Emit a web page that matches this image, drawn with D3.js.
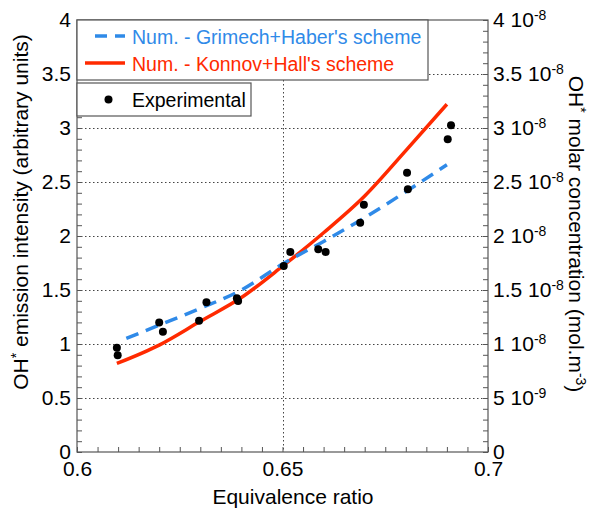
<!DOCTYPE html>
<html><head><meta charset="utf-8">
<script src="https://cdn.jsdelivr.net/npm/d3@7"></script>
<style>
body{margin:0;background:#fff;}
svg{font-family:"Liberation Sans",Arial,sans-serif;}
</style></head>
<body><svg id="c" width="590" height="516"></svg>
<script>
// ---- data ----
const expPhi = [0.6097,0.6099,0.6200,0.6209,0.6297,0.6315,0.6389,0.6392,0.6503,0.6519,0.6587,0.6605,0.6689,0.6698,0.6803,0.6805,0.6902,0.6910];
const expVal = [0.966,0.895,1.20,1.114,1.216,1.386,1.423,1.398,1.722,1.852,1.877,1.852,2.123,2.29,2.586,2.432,2.895,3.025];
const grimechPhi = [0.612,0.620,0.630,0.640,0.650,0.660,0.670,0.680,0.690];
const grimechVal = [1.052,1.175,1.33,1.50,1.74,1.95,2.17,2.41,2.66];
const konnovPhi = [0.6097,0.620,0.630,0.640,0.650,0.660,0.670,0.680,0.690];
const konnovVal = [0.82,0.99,1.21,1.43,1.72,2.03,2.37,2.79,3.22];
const xTicks = [0.6,0.65,0.7];
const xTickLabels = ["0.6","0.65","0.7"];
const yTicks = [0,0.5,1,1.5,2,2.5,3,3.5,4];
const yTickLabels = ["0","0.5","1","1.5","2","2.5","3","3.5","4"];
const y2Ticks = [0,5e-9,1e-8,1.5e-8,2e-8,2.5e-8,3e-8,3.5e-8,4e-8];
const y2Mantissa = ["0","5","1","1.5","2","2.5","3","3.5","4"];
const y2Exponent = ["","-9","-8","-8","-8","-8","-8","-8","-8"];
const legendLabels = ["Num. - Grimech+Haber's scheme","Num. - Konnov+Hall's scheme","Experimental"];

// ---- layout ----
const L=77,R=488,T=20,B=452;
const blue="#2f8ae8", red="#ff2a00", axisCol="#555";
const svg=d3.select("#c");
const x=d3.scaleLinear().domain([0.6,0.7]).range([L,R]);
const y=d3.scaleLinear().domain([0,4]).range([B,T]);
const y2=d3.scaleLinear().domain([0,4e-8]).range([B,T]);

// grid
const grid=svg.append("g").attr("stroke","#444").attr("stroke-width",1).attr("stroke-dasharray","1.5,2.5");
yTicks.filter(v=>v>0&&v<4).forEach(v=>grid.append("line").attr("x1",L).attr("x2",R).attr("y1",Math.round(y(v))+0.5).attr("y2",Math.round(y(v))+0.5));
xTicks.filter(v=>v>0.6&&v<0.7).forEach(v=>grid.append("line").attr("y1",T).attr("y2",B).attr("x1",Math.round(x(v))+0.5).attr("x2",Math.round(x(v))+0.5));

// frame
svg.append("rect").attr("x",L).attr("y",T).attr("width",R-L).attr("height",B-T).attr("fill","none").attr("stroke",axisCol).attr("stroke-width",1.2);

function styleAxis(g){g.select(".domain").remove();g.selectAll("line").attr("stroke",axisCol);}
// minor ticks (inward)
svg.append("g").attr("transform",`translate(${L},0)`).call(d3.axisRight(y).tickValues(d3.range(0,4.001,0.1)).tickSize(5).tickFormat("")).call(styleAxis);
svg.append("g").attr("transform",`translate(${R},0)`).call(d3.axisLeft(y2).tickValues(d3.range(0,4.001e-8,1e-9)).tickSize(5).tickFormat("")).call(styleAxis);
svg.append("g").attr("transform",`translate(0,${B})`).call(d3.axisTop(x).tickValues(d3.range(0.6,0.7001,0.005)).tickSize(5).tickFormat("")).call(styleAxis);

// labels
const fs=21;
const gl=svg.append("g").attr("transform",`translate(${L},0)`).call(d3.axisLeft(y).tickValues(yTicks).tickSize(0).tickPadding(6).tickFormat((d,i)=>yTickLabels[i]));
gl.select(".domain").remove();
gl.selectAll("text").attr("font-size",fs).attr("font-family","Liberation Sans,Arial,sans-serif").attr("fill","#000");
const gb=svg.append("g").attr("transform",`translate(0,${B})`).call(d3.axisBottom(x).tickValues(xTicks).tickSize(0).tickPadding(9).tickFormat((d,i)=>xTickLabels[i]));
gb.select(".domain").remove();
gb.selectAll("text").attr("font-size",fs).attr("font-family","Liberation Sans,Arial,sans-serif").attr("fill","#000");
const gr=svg.append("g").attr("transform",`translate(${R},0)`).call(d3.axisRight(y2).tickValues(y2Ticks).tickSize(0).tickPadding(5).tickFormat(""));
gr.select(".domain").remove();
gr.selectAll(".tick text").each(function(d,i){
  const t=d3.select(this).attr("font-size",fs).attr("font-family","Liberation Sans,Arial,sans-serif").attr("fill","#000").text(null);
  t.append("tspan").text(y2Mantissa[i]+(y2Exponent[i]?" 10":""));
  if(y2Exponent[i]) t.append("tspan").attr("dy","-0.55em").attr("font-size",14).text(y2Exponent[i]);
});

// axis titles
svg.append("text").attr("x",293).attr("y",504).attr("text-anchor","middle").attr("font-size",fs).text("Equivalence ratio");
const lt=svg.append("text").attr("transform","translate(28,212) rotate(-90)").attr("text-anchor","middle").attr("font-size",fs);
lt.append("tspan").text("OH");
lt.append("tspan").attr("dy","-0.5em").attr("font-size",14).text("*");
lt.append("tspan").attr("dy","0.35em").text(" emission intensity (arbitrary units)");
const rt=svg.append("text").attr("transform","translate(569,234) rotate(90)").attr("text-anchor","middle").attr("font-size",fs);
rt.append("tspan").text("OH");
rt.append("tspan").attr("dy","-0.5em").attr("font-size",14).text("*");
rt.append("tspan").attr("dy","0.35em").text(" molar concentration (mol.m");
rt.append("tspan").attr("dy","-0.5em").attr("font-size",14).text("-3");
rt.append("tspan").attr("dy","0.35em").text(")");

// curves
const line=d3.line().x(d=>x(d[0])).y(d=>y(d[1])).curve(d3.curveMonotoneX);
svg.append("path").datum(konnovPhi.map((p,i)=>[p,konnovVal[i]])).attr("d",line).attr("fill","none").attr("stroke",red).attr("stroke-width",3.5);
svg.append("path").datum(grimechPhi.map((p,i)=>[p,grimechVal[i]])).attr("d",line).attr("fill","none").attr("stroke",blue).attr("stroke-width",3.5).attr("stroke-dasharray","13,8");
svg.append("g").selectAll("circle").data(expPhi.map((p,i)=>[p,expVal[i]])).join("circle").attr("cx",d=>x(d[0])).attr("cy",d=>y(d[1])).attr("r",4).attr("fill","#000");

// legends
const lg=svg.append("g");
lg.append("rect").attr("x",L).attr("y",T).attr("width",351).attr("height",60).attr("fill","#fff").attr("stroke",axisCol).attr("stroke-width",1.2);
lg.append("line").attr("x1",95).attr("x2",125).attr("y1",36).attr("y2",36).attr("stroke",blue).attr("stroke-width",3.5).attr("stroke-dasharray","12,8");
lg.append("text").attr("x",132).attr("y",44).attr("font-size",19.5).attr("fill",blue).text(legendLabels[0]);
lg.append("line").attr("x1",85).attr("x2",125).attr("y1",63).attr("y2",63).attr("stroke",red).attr("stroke-width",3.5);
lg.append("text").attr("x",132).attr("y",71).attr("font-size",19.5).attr("fill",red).text(legendLabels[1]);
lg.append("rect").attr("x",L).attr("y",83).attr("width",174).attr("height",33).attr("fill","#fff").attr("stroke",axisCol).attr("stroke-width",1.2);
lg.append("circle").attr("cx",108.5).attr("cy",99.5).attr("r",4).attr("fill","#000");
lg.append("text").attr("x",132).attr("y",107).attr("font-size",19.5).attr("fill","#000").text(legendLabels[2]);
</script></body></html>
